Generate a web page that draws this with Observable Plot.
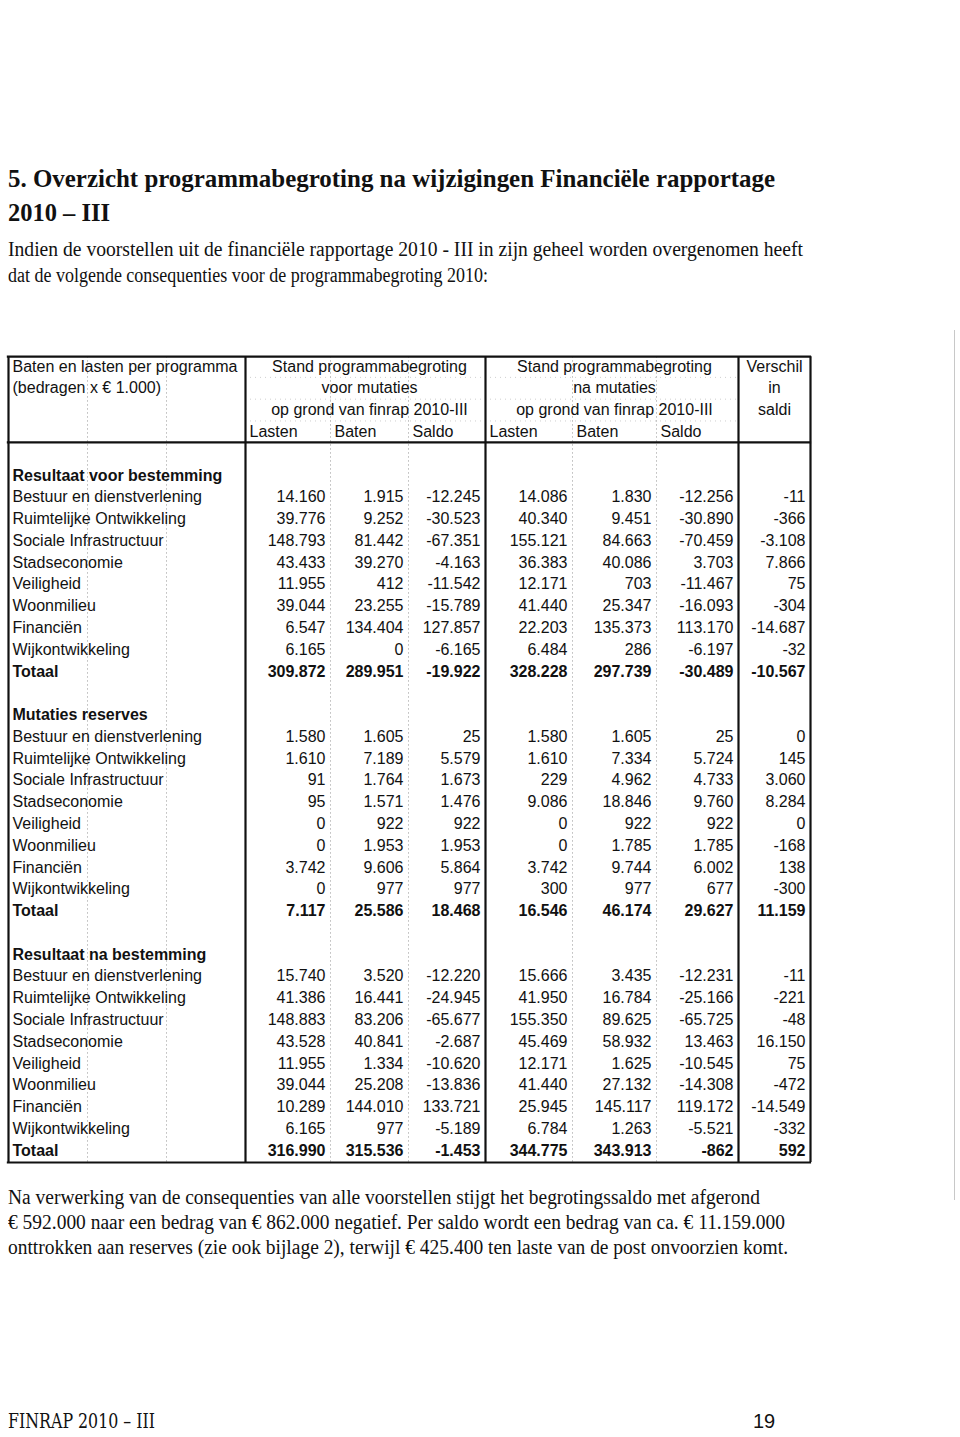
<!DOCTYPE html>
<html>
<head>
<meta charset="utf-8">
<script src="https://cdn.jsdelivr.net/npm/d3@7"></script>
<script src="https://cdn.jsdelivr.net/npm/@observablehq/plot@0.6"></script>
<style>
  html, body { margin: 0; padding: 0; background: #fff; }
  body { width: 960px; height: 1437px; position: relative; overflow: hidden; color: #111;
         font-family: "Liberation Serif", "Times New Roman", serif; }
  .t { position: absolute; white-space: nowrap; line-height: 1; transform-origin: 0 0; }
  #chart { position: absolute; left: 0; top: 340px; }
  #scanline { position: absolute; left: 954px; top: 330px; width: 1px; height: 870px; background: #c8c8c8; }
</style>
</head>
<body>
<div id="scanline"></div>
<div id="chart"></div>
<script>
// ---------- texts ----------
const titelRegels = [
  "5. Overzicht programmabegroting na wijzigingen Financiële rapportage",
  "2010 – III"
];
const introRegels = [
  "Indien de voorstellen uit de financiële rapportage 2010 - III in zijn geheel worden overgenomen heeft",
  "dat de volgende consequenties voor de programmabegroting 2010:"
];
const slotRegels = [
  "Na verwerking van de consequenties van alle voorstellen stijgt het begrotingssaldo met afgerond",
  "€ 592.000 naar een bedrag van € 862.000 negatief. Per saldo wordt een bedrag van ca. € 11.159.000",
  "onttrokken aan reserves (zie ook bijlage 2), terwijl € 425.400 ten laste van de post onvoorzien komt."
];
const voettekst = "FINRAP 2010 – III";
const paginanummer = "19";

// ---------- table headers ----------
const hoekKop = ["Baten en lasten per programma", "(bedragen x € 1.000)"];
const groepKopVoor = ["Stand programmabegroting", "voor mutaties", "op grond van finrap 2010-III"];
const groepKopNa = ["Stand programmabegroting", "na mutaties", "op grond van finrap 2010-III"];
const verschilKop = ["Verschil", "in", "saldi"];
const kolomKoppen = ["Lasten", "Baten", "Saldo"];

// ---------- categories ----------
const sectieTitels = ["Resultaat voor bestemming", "Mutaties reserves", "Resultaat na bestemming"];
const programmas = ["Bestuur en dienstverlening", "Ruimtelijke Ontwikkeling", "Sociale Infrastructuur",
  "Stadseconomie", "Veiligheid", "Woonmilieu", "Financiën", "Wijkontwikkeling", "Totaal"];

// ---------- values (x € 1.000): Lasten, Baten, Saldo (voor) | Lasten, Baten, Saldo (na) | Verschil ----------
const resultaatVoorBestemming = [
  [14160, 1915, -12245, 14086, 1830, -12256, -11],
  [39776, 9252, -30523, 40340, 9451, -30890, -366],
  [148793, 81442, -67351, 155121, 84663, -70459, -3108],
  [43433, 39270, -4163, 36383, 40086, 3703, 7866],
  [11955, 412, -11542, 12171, 703, -11467, 75],
  [39044, 23255, -15789, 41440, 25347, -16093, -304],
  [6547, 134404, 127857, 22203, 135373, 113170, -14687],
  [6165, 0, -6165, 6484, 286, -6197, -32],
  [309872, 289951, -19922, 328228, 297739, -30489, -10567]
];
const mutatiesReserves = [
  [1580, 1605, 25, 1580, 1605, 25, 0],
  [1610, 7189, 5579, 1610, 7334, 5724, 145],
  [91, 1764, 1673, 229, 4962, 4733, 3060],
  [95, 1571, 1476, 9086, 18846, 9760, 8284],
  [0, 922, 922, 0, 922, 922, 0],
  [0, 1953, 1953, 0, 1785, 1785, -168],
  [3742, 9606, 5864, 3742, 9744, 6002, 138],
  [0, 977, 977, 300, 977, 677, -300],
  [7117, 25586, 18468, 16546, 46174, 29627, 11159]
];
const resultaatNaBestemming = [
  [15740, 3520, -12220, 15666, 3435, -12231, -11],
  [41386, 16441, -24945, 41950, 16784, -25166, -221],
  [148883, 83206, -65677, 155350, 89625, -65725, -48],
  [43528, 40841, -2687, 45469, 58932, 13463, 16150],
  [11955, 1334, -10620, 12171, 1625, -10545, 75],
  [39044, 25208, -13836, 41440, 27132, -14308, -472],
  [10289, 144010, 133721, 25945, 145117, 119172, -14549],
  [6165, 977, -5189, 6784, 1263, -5521, -332],
  [316990, 315536, -1453, 344775, 343913, -862, 592]
];

// ---------- page text placement ----------
function place(text, {baseline, size, weight = "normal", width, left = 8, family}) {
  const d = document.createElement("div");
  d.className = "t";
  d.textContent = text;
  d.style.fontSize = size + "px";
  d.style.fontWeight = weight;
  d.style.left = left + "px";
  if (family) d.style.fontFamily = family;
  d.style.top = (baseline - 0.8375 * size) + "px";
  document.body.appendChild(d);
  if (width) {
    const w = d.getBoundingClientRect().width;
    d.style.transform = `scaleX(${width / w})`;
  }
}
place(titelRegels[0], {baseline: 188, size: 26, weight: "bold", width: 767});
place(titelRegels[1], {baseline: 222, size: 26, weight: "bold", width: 102});
place(introRegels[0], {baseline: 256, size: 20, width: 795});
place(introRegels[1], {baseline: 282, size: 20, width: 480});
place(slotRegels[0], {baseline: 1204, size: 20, width: 752});
place(slotRegels[1], {baseline: 1229, size: 20, width: 777});
place(slotRegels[2], {baseline: 1254, size: 20, width: 780});
place(voettekst, {baseline: 1428, size: 20, width: 147, family: "'DejaVu Serif', serif"});
place(paginanummer, {baseline: 1428, size: 20, left: 753, family: "'Liberation Sans', sans-serif"});

// ---------- table data ----------
const fmt = d3.formatLocale({decimal: ",", thousands: ".", grouping: [3], currency: ["€ ", ""], minus: "-"}).format(",d");
const secties = [resultaatVoorBestemming, mutatiesReserves, resultaatNaBestemming];
const labels = [];
const cells = [];
let r = 0;
secties.forEach((waarden, s) => {
  labels.push({r, text: sectieTitels[s], bold: true});
  r++;
  programmas.forEach((p, i) => {
    const bold = p === "Totaal";
    labels.push({r, text: p, bold});
    waarden[i].forEach((v, c) => cells.push({r, col: c + 4, text: fmt(v), bold}));
    r++;
  });
  r++;
});
const lastRow = r - 2;

const kopCentraal = [];
groepKopVoor.forEach((t, i) => kopCentraal.push({x: 4.5, r: -5 + i, text: t}));
groepKopNa.forEach((t, i) => kopCentraal.push({x: 7.5, r: -5 + i, text: t}));
verschilKop.forEach((t, i) => kopCentraal.push({x: 9.5, r: -5 + i, text: t}));
const kopLinks = [];
hoekKop.forEach((t, i) => kopLinks.push({x: 0, r: -5 + i, text: t}));
kolomKoppen.forEach((t, i) => { kopLinks.push({x: 3 + i, r: -2, text: t}); kopLinks.push({x: 6 + i, r: -2, text: t}); });

const rTop = -5.45, rHead = -1.52, rBottom = lastRow + 0.55;
const ink = "#111";

const chart = Plot.plot({
  width: 960,
  height: 840,
  margin: 0,
  // piecewise column scale: label column spans 3 units, each value column one unit
  x: {type: "linear", domain: [0, 3, 4, 5, 6, 7, 8, 9, 10], range: [8, 245, 330, 408, 485, 572, 656, 738, 810], axis: null},
  y: {type: "linear", domain: [-5, lastRow], range: [26, 810], axis: null},
  style: {fontFamily: "'Liberation Sans', Arial, sans-serif", fontSize: "16px", background: "transparent", color: ink},
  marks: [
    // faint printed gridlines
    Plot.ruleX([1, 2, 4, 5, 7, 8], {y1: rTop, y2: rBottom, stroke: "#9a9a9a", strokeDasharray: "1.5,2.5", strokeOpacity: 0.7}),
    Plot.ruleY([-4.5, -3.5, -2.5], {x1: 3, x2: 9, stroke: "#bbb", strokeDasharray: "1,4", strokeOpacity: 0.7}),
    // frame
    Plot.ruleX([0, 3, 6, 9, 10], {y1: rTop, y2: rBottom, stroke: ink, strokeWidth: 2.2}),
    Plot.ruleY([rTop, rHead, rBottom], {x1: -0.015, x2: 10.015, stroke: ink, strokeWidth: 2.2}),
    // headers
    Plot.text(kopCentraal, {x: "x", y: "r", text: "text", textAnchor: "middle", fontSize: 16, fill: ink}),
    Plot.text(kopLinks, {x: "x", y: "r", text: "text", textAnchor: "start", dx: 4, fontSize: 16, fill: ink}),
    // row labels
    Plot.text(labels.filter(d => !d.bold), {x: 0, y: "r", text: "text", textAnchor: "start", dx: 4, fontSize: 16, fill: ink}),
    Plot.text(labels.filter(d => d.bold), {x: 0, y: "r", text: "text", textAnchor: "start", dx: 4, fontSize: 16, fontWeight: "bold", fill: ink}),
    // values
    Plot.text(cells.filter(d => !d.bold), {x: "col", y: "r", text: "text", textAnchor: "end", dx: -5, fontSize: 16, fill: ink}),
    Plot.text(cells.filter(d => d.bold), {x: "col", y: "r", text: "text", textAnchor: "end", dx: -5, fontSize: 16, fontWeight: "bold", fill: ink})
  ]
});
document.getElementById("chart").appendChild(chart);
</script>
</body>
</html>
